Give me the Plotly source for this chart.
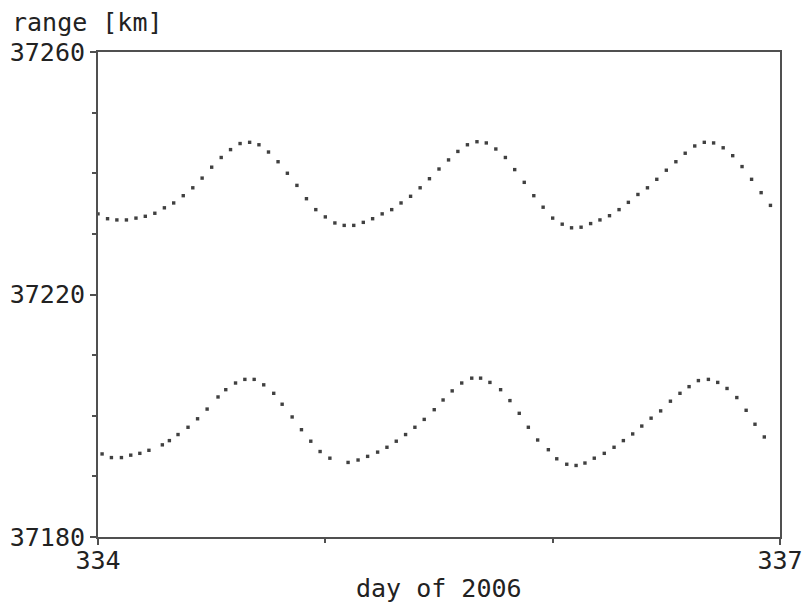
import plotly.graph_objects as go

# Upper series: hourly samples (day of 2006)
upper_day = [
    334.000, 334.042, 334.083, 334.125, 334.167, 334.208, 334.250, 334.292, 334.333, 334.375,
    334.417, 334.458, 334.500, 334.542, 334.583, 334.625, 334.667, 334.708, 334.750, 334.792,
    334.833, 334.875, 334.917, 334.958, 335.000, 335.042, 335.083, 335.125, 335.167, 335.208,
    335.250, 335.292, 335.333, 335.375, 335.417, 335.458, 335.500, 335.542, 335.583, 335.625,
    335.667, 335.708, 335.750, 335.792, 335.833, 335.875, 335.917, 335.958, 336.000, 336.042,
    336.083, 336.125, 336.167, 336.208, 336.250, 336.292, 336.333, 336.375, 336.417, 336.458,
    336.500, 336.542, 336.583, 336.625, 336.667, 336.708, 336.750, 336.792, 336.833, 336.875,
    336.917, 336.958,
]
upper_km = [
    37233.3, 37232.5, 37232.3, 37232.3, 37232.6, 37232.9, 37233.4, 37234.3, 37235.1, 37236.3,
    37237.6, 37239.2, 37241.0, 37242.6, 37243.9, 37244.9, 37245.1, 37244.7, 37243.5, 37241.9,
    37240.0, 37238.0, 37235.8, 37234.0, 37232.8, 37231.8, 37231.4, 37231.4, 37231.9, 37232.5,
    37233.3, 37234.0, 37235.1, 37236.2, 37237.6, 37239.1, 37240.7, 37242.2, 37243.6, 37244.7,
    37245.2, 37245.0, 37244.0, 37242.6, 37240.6, 37238.5, 37236.3, 37234.4, 37232.6, 37231.6,
    37231.0, 37231.1, 37231.7, 37232.3, 37233.0, 37234.0, 37235.2, 37236.5, 37237.6, 37239.0,
    37240.5, 37241.9, 37243.3, 37244.5, 37245.1, 37245.0, 37244.2, 37242.9, 37241.1, 37239.0,
    37236.8, 37234.7,
]

# Lower series
lower_day = [
    334.018, 334.059, 334.103, 334.144, 334.184, 334.224, 334.283, 334.314, 334.352, 334.396,
    334.438, 334.480, 334.528, 334.562, 334.605, 334.646, 334.687, 334.729, 334.773, 334.810,
    334.854, 334.895, 334.936, 334.977, 335.020, 335.100, 335.144, 335.186, 335.230, 335.271,
    335.312, 335.353, 335.394, 335.435, 335.479, 335.518, 335.558, 335.600, 335.644, 335.683,
    335.724, 335.771, 335.812, 335.853, 335.893, 335.934, 335.981, 336.018, 336.062, 336.103,
    336.142, 336.183, 336.227, 336.270, 336.311, 336.352, 336.392, 336.433, 336.475, 336.518,
    336.560, 336.600, 336.641, 336.685, 336.726, 336.767, 336.810, 336.851, 336.890, 336.931,
]
lower_km = [
    37193.7, 37193.1, 37193.1, 37193.5, 37193.8, 37194.3, 37195.2, 37195.9, 37196.9, 37198.1,
    37199.5, 37201.1, 37203.1, 37204.3, 37205.4, 37206.0, 37206.0, 37205.1, 37203.7, 37201.9,
    37199.8, 37197.7, 37195.8, 37194.1, 37193.0, 37192.3, 37192.7, 37193.3, 37194.0, 37194.8,
    37195.8, 37196.9, 37198.1, 37199.4, 37201.0, 37202.6, 37204.1, 37205.4, 37206.2, 37206.2,
    37205.5, 37204.3, 37202.5, 37200.4, 37198.1, 37196.0, 37194.4, 37192.9, 37192.0, 37191.8,
    37192.2, 37193.0, 37193.8, 37194.8, 37195.9, 37197.0, 37198.3, 37199.6, 37200.8, 37202.4,
    37203.7, 37204.8, 37205.8, 37206.0, 37205.5, 37204.5, 37203.0, 37200.9, 37198.6, 37196.5,
]

y_ticks = [37180, 37220, 37260]
x_ticks = [334, 337]
x_minor = [335, 336]

FONT = "DejaVu Sans Mono"
TXT = "#222222"
AX = "#505050"
FS = 25

marker = dict(symbol="square", size=3.4, color="#404040", line=dict(width=0))

fig = go.Figure()
fig.add_trace(go.Scatter(x=upper_day, y=upper_km, mode="markers", marker=marker,
                         showlegend=False, hoverinfo="x+y"))
fig.add_trace(go.Scatter(x=lower_day, y=lower_km, mode="markers", marker=marker,
                         showlegend=False, hoverinfo="x+y"))

fig.update_layout(
    width=807, height=602,
    margin=dict(l=98, r=27, t=52, b=65, autoexpand=False),
    paper_bgcolor="white", plot_bgcolor="white",
    font=dict(family=FONT, size=FS, color=TXT),
    xaxis=dict(
        range=[334, 337], tickmode="array", tickvals=x_ticks,
        ticktext=[str(v) for v in x_ticks],
        automargin=False,
        showgrid=False, zeroline=False,
        showline=True, linecolor=AX, linewidth=2, mirror=True,
        ticks="outside", ticklen=6, tickwidth=1.5, tickcolor=AX,
        ticklabelstandoff=-6, ticklabeloverflow="allow",
        tickfont=dict(family=FONT, size=FS, color=TXT),
        minor=dict(tickmode="array", tickvals=x_minor, ticks="outside",
                   ticklen=4, tickwidth=1.5, tickcolor=AX, showgrid=False),
    ),
    yaxis=dict(
        range=[37180, 37260], tickmode="array", tickvals=y_ticks,
        ticktext=[str(v) for v in y_ticks],
        automargin=False,
        showgrid=False, zeroline=False,
        showline=True, linecolor=AX, linewidth=2, mirror=True,
        ticks="outside", ticklen=6, tickwidth=1.5, tickcolor=AX,
        ticklabeloverflow="allow",
        tickfont=dict(family=FONT, size=FS, color=TXT),
        minor=dict(dtick=10, ticks="outside", ticklen=4, tickwidth=1.5,
                   tickcolor=AX, showgrid=False),
    ),
    annotations=[
        dict(text="range [km]", xref="paper", yref="paper", x=0, y=1,
             xanchor="left", yanchor="middle", xshift=-88, yshift=30,
             showarrow=False, font=dict(family=FONT, size=FS, color=TXT)),
        dict(text="day of 2006", xref="paper", yref="paper", x=0.5, y=0,
             xanchor="center", yanchor="middle", yshift=-51,
             showarrow=False, font=dict(family=FONT, size=FS, color=TXT)),
    ],
)

fig.write_html("out.html")
